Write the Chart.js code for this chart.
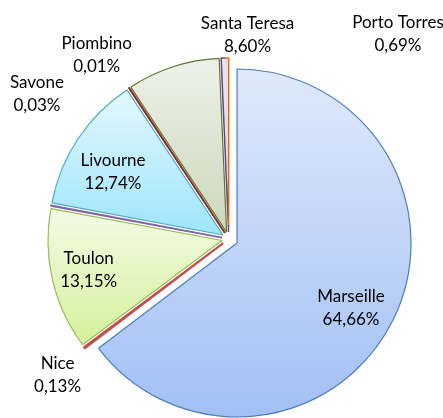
<!DOCTYPE html>
<html>
<head>
<meta charset="utf-8">
<script src="https://cdn.jsdelivr.net/npm/chart.js@4.4.1/dist/chart.umd.min.js"></script>
<style>
    body { margin: 0; background: #fff; }
    #wrap { width: 443px; height: 418px; position: relative; }
</style>
</head>
<body>
<div id="wrap"><canvas id="camembert"></canvas></div>
<script>
// Parts de trafic par port (en %)
const ports = ['Marseille', 'Nice', 'Toulon', 'Savone', 'Livourne', 'Piombino', 'Santa Teresa', 'Porto Torres'];
const parts = [64.66, 0.13, 13.15, 0.03, 12.74, 0.01, 8.60, 0.69];

// styles (haut du degradé, bas du degradé, bordure)
const hautCouleurs = ['#dfe9fb', '#c0504d', '#f3fbe5', '#8064a2', '#e4f8fe', '#953735', '#eef1e9', '#e6e1ee'];
const basCouleurs  = ['#a2c0f5', '#c0504d', '#d4f19c', '#8064a2', '#9ee5fb', '#953735', '#cbd7ba', '#e6e1ee'];
const bordures     = ['#4a7ebb', '#c0504d', '#9bbb59', '#8064a2', '#4bacc6', '#8b2a2a', '#5f7530', '#604a7b'];
const bordures2    = [null, null, null, null, null, null, null, '#e46c0a']; // second côté (Porto Torres)
const epaisseurs   = [1.2, 2, 1.2, 2, 1.2, 2, 1.2, 1.5];

// position des étiquettes, en rayons, par rapport au centre de chaque part
const posEtiquettes = [
    [0.655, 0.371], [-0.952, 0.758], [-0.766, 0.170], [-1.063, -0.827],
    [-0.632, -0.362], [-0.737, -1.023], [0.120, -1.131], [0.973, -1.137]
];

const RAYON = 174;
const ECLATE = [9.2, 7, 7, 7, 7, 7, 7, 7]; // décalage de chaque part vers l'extérieur

const total = parts.reduce((a, b) => a + b, 0);

function angles(i) {
    let cum = 0;
    for (let k = 0; k < i; k++) cum += parts[k];
    const a0 = -Math.PI / 2 + cum / total * 2 * Math.PI;
    const a1 = a0 + parts[i] / total * 2 * Math.PI;
    return [a0, a1];
}

function decalage(i) {
    const [a0, a1] = angles(i);
    const m = (a0 + a1) / 2;
    return [Math.cos(m) * ECLATE[i], Math.sin(m) * ECLATE[i]];
}

function centre(chart, i) {
    const area = chart.chartArea;
    const d = decalage(i);
    return [(area.left + area.right) / 2 + d[0], (area.top + area.bottom) / 2 + d[1]];
}

function degrade(context) {
    const i = context.dataIndex;
    const chart = context.chart;
    if (!chart.chartArea) return hautCouleurs[i];
    if (hautCouleurs[i] === basCouleurs[i]) return hautCouleurs[i];
    const [cx, cy] = centre(chart, i);
    const [a0, a1] = angles(i);
    let ys = [cy, cy + RAYON * Math.sin(a0), cy + RAYON * Math.sin(a1)];
    [-Math.PI / 2, Math.PI / 2, 3 * Math.PI / 2].forEach(k => {
        if (k > a0 && k < a1) ys.push(cy + RAYON * Math.sin(k));
    });
    const g = chart.ctx.createLinearGradient(0, Math.min(...ys), 0, Math.max(...ys));
    g.addColorStop(0, hautCouleurs[i]);
    g.addColorStop(1, basCouleurs[i]);
    return g;
}

// bordure en deux couleurs : un côté de la part, puis l'autre
function bordure(context) {
    const i = context.dataIndex;
    const chart = context.chart;
    if (!bordures2[i] || !chart.chartArea) return bordures[i];
    const [cx, cy] = centre(chart, i);
    const [a0, a1] = angles(i);
    const m = (a0 + a1) / 2;
    const nx = -Math.sin(m), ny = Math.cos(m);
    const w = 6;
    const g = chart.ctx.createLinearGradient(cx - nx * w, cy - ny * w, cx + nx * w, cy + ny * w);
    g.addColorStop(0, bordures[i]);
    g.addColorStop(0.5, bordures[i]);
    g.addColorStop(0.5, bordures2[i]);
    g.addColorStop(1, bordures2[i]);
    return g;
}

const eclatePlugin = {
    id: 'eclate',
    afterDatasetsUpdate(chart) {
        const meta = chart.getDatasetMeta(0);
        meta.data.forEach((arc, i) => {
            const d = decalage(i);
            arc.x += d[0];
            arc.y += d[1];
        });
    }
};

const etiquettesPlugin = {
    id: 'etiquettes',
    afterDatasetsDraw(chart) {
        const ctx = chart.ctx;
        const meta = chart.getDatasetMeta(0);
        ctx.save();
        ctx.font = '17px Lato';
        ctx.fillStyle = '#000';
        ctx.textAlign = 'center';
        ctx.textBaseline = 'middle';
        meta.data.forEach((arc, i) => {
            const x = arc.x + posEtiquettes[i][0] * RAYON;
            const y = arc.y + posEtiquettes[i][1] * RAYON;
            const pct = parts[i].toFixed(2).replace('.', ',') + '%';
            ctx.fillText(ports[i], x, y - 11.5);
            ctx.fillText(pct, x, y + 11.5);
        });
        ctx.restore();
    }
};

const ctx = document.getElementById('camembert').getContext('2d');
new Chart(ctx, {
    type: 'pie',
    data: {
        labels: ports,
        datasets: [{
            data: parts,
            backgroundColor: degrade,
            borderColor: bordure,
            borderWidth: epaisseurs,
            radius: RAYON,
            clip: false
        }]
    },
    options: {
        responsive: true,
        maintainAspectRatio: false,
        animation: false,
        events: [],
        layout: { padding: { left: 14.6, right: 0, top: 59.8, bottom: 0 } },
        plugins: {
            legend: { display: false },
            tooltip: { enabled: false }
        }
    },
    plugins: [eclatePlugin, etiquettesPlugin]
});
</script>
</body>
</html>
